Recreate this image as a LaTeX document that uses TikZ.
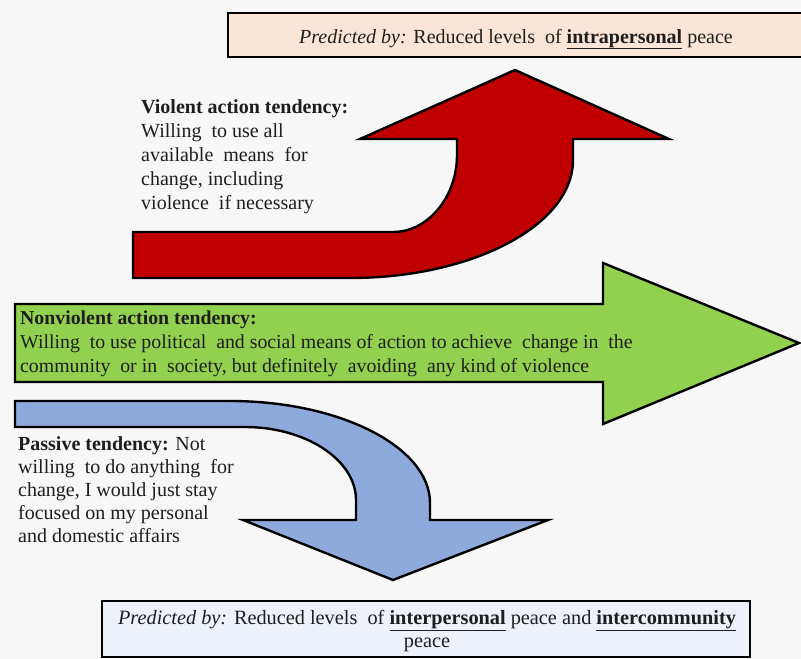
\documentclass[tikz,border=0pt]{standalone}
\usepackage{fontspec}
\setmainfont{Liberation Serif}
\definecolor{bgcol}{HTML}{F7F7F7}
\definecolor{redA}{HTML}{C00000}
\definecolor{greenA}{HTML}{92D050}
\definecolor{blueA}{HTML}{8EA9DB}
\definecolor{peach}{HTML}{FBE5D6}
\definecolor{paleblue}{HTML}{EDF1F9}
\definecolor{txtcol}{HTML}{1E1E1E}
\begin{document}
\begin{tikzpicture}[x=1pt,y=-1pt,
  arrowshape/.style={draw=black, line width=2.4pt, line join=miter},
  boxshape/.style={draw=black, line width=2.6pt},
  txt/.style={inner sep=0pt, align=left, text=txtcol, font=\fontsize{20}{24}\selectfont},
  gtxt/.style={inner sep=0pt, align=left, text=txtcol, font=\fontsize{19.8}{24}\selectfont}]
\useasboundingbox (0,0) rectangle (801,659);
\clip (0,0) rectangle (801,659);
\fill[bgcol] (0,0) rectangle (801,659);

% top box
\draw[boxshape, fill=peach] (228,13) rectangle (812,57);
\node[txt, anchor=base] (toptext) at (516,43) {\textit{Predicted by:} Reduced levels\ \ of \underline{\textbf{intrapersonal}} peace};

% red arrow
\filldraw[arrowshape, fill=redA] (133,232) -- (393,232)
  .. controls (428,232) and (457,197) .. (457,155) -- (457,139) -- (360,139)
  -- (515,70) -- (669,139) -- (573,139) -- (573,160)
  .. controls (573,225) and (473,278) .. (350,278) -- (133,278) -- cycle;
\node[txt, anchor=base west] (violent) at (141,209) {\textbf{Violent action tendency:}\\Willing\ \ to use all\\available\ \ means\ \ for\\change, including\\violence\ \ if necessary};

% green arrow
\filldraw[arrowshape, fill=greenA] (15,304) -- (603,304) -- (603,263) -- (799,343)
  -- (603,424) -- (603,382) -- (15,382) -- cycle;
\node[gtxt, anchor=base west] (nonviolent) at (20,372) {\textbf{Nonviolent action tendency:}\\Willing\ \ to use political\ \ and social means of action to achieve\ \ change in\ \ the\\community\ \ or in\ \ society, but definitely\ \ avoiding\ \ any kind of violence};

% blue arrow
\filldraw[arrowshape, fill=blueA] (15,401) -- (230,401)
  .. controls (340,401) and (430,447) .. (430,503) -- (430,520) -- (548,520)
  -- (393,580) -- (243,520) -- (356,520) -- (356,500)
  .. controls (356,460) and (306,427) .. (245,427) -- (15,427) -- cycle;
\node[txt, anchor=base west, font=\fontsize{20}{23}\selectfont] (passive) at (18,542) {\textbf{Passive tendency:} Not\\willing\ \ to do anything\ \ for\\change, I would just stay\\focused on my personal\\and domestic affairs};

% bottom box
\draw[boxshape, fill=paleblue] (102,601) rectangle (750,657);
\node[txt, align=center, anchor=base, font=\fontsize{20.3}{23}\selectfont] (bottext) at (427,647) {\textit{Predicted by:} Reduced levels\ \ of \underline{\textbf{interpersonal}} peace and \underline{\textbf{intercommunity}}\\peace};
\end{tikzpicture}
\end{document}
